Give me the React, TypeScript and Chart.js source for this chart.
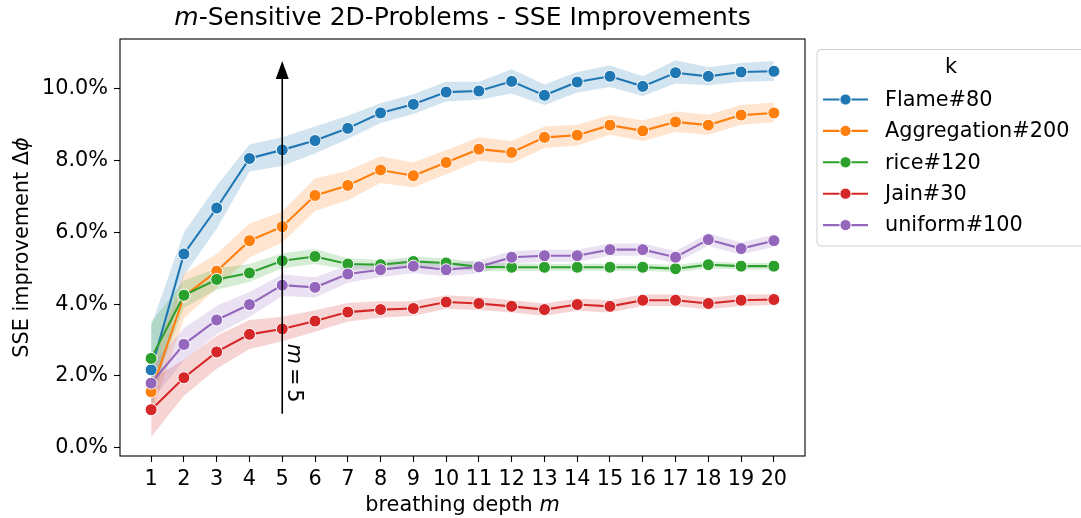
import React, { useEffect, useRef } from "react";
import { Chart, registerables } from "chart.js";

Chart.register(...registerables);

const FONT = "DejaVu Sans";

const depths = [1, 2, 3, 4, 5, 6, 7, 8, 9, 10, 11, 12, 13, 14, 15, 16, 17, 18, 19, 20];

const seriesLabels = ["Flame#80", "Aggregation#200", "rice#120", "Jain#30", "uniform#100"];
const seriesColors = ["#1f77b4", "#ff7f0e", "#2ca02c", "#d62728", "#9467bd"];
const bandColors = [
  "rgba(31,119,180,0.2)",
  "rgba(255,127,14,0.2)",
  "rgba(44,160,44,0.2)",
  "rgba(214,39,40,0.2)",
  "rgba(148,103,189,0.2)",
];

const flame = [2.17, 5.40, 6.68, 8.06, 8.30, 8.56, 8.90, 9.33, 9.57, 9.91, 9.94, 10.21, 9.82, 10.19, 10.35, 10.07, 10.45, 10.35, 10.47, 10.49];
const flameLow = [1.0, 4.8, 6.1, 7.7, 7.85, 8.2, 8.6, 9.05, 9.3, 9.65, 9.7, 9.87, 9.55, 9.9, 10.05, 9.8, 10.15, 10.1, 10.2, 10.22];
const flameHigh = [3.4, 6.0, 7.3, 8.45, 8.65, 8.95, 9.25, 9.6, 9.85, 10.2, 10.2, 10.55, 10.12, 10.47, 10.65, 10.35, 10.8, 10.6, 10.72, 10.78];

const aggregation = [1.56, 4.22, 4.92, 5.77, 6.16, 7.03, 7.31, 7.74, 7.58, 7.95, 8.32, 8.23, 8.65, 8.71, 8.99, 8.83, 9.08, 8.99, 9.27, 9.33];
const aggregationLow = [0.9, 3.6, 4.45, 5.3, 5.72, 6.6, 6.9, 7.38, 7.25, 7.62, 8.0, 7.92, 8.35, 8.42, 8.72, 8.55, 8.8, 8.72, 9.0, 9.07];
const aggregationHigh = [2.3, 4.85, 5.4, 6.25, 6.58, 7.5, 7.72, 8.12, 7.95, 8.3, 8.65, 8.55, 8.95, 9.0, 9.27, 9.12, 9.37, 9.28, 9.55, 9.62];

const rice = [2.49, 4.25, 4.69, 4.87, 5.21, 5.33, 5.12, 5.10, 5.19, 5.15, 5.04, 5.03, 5.03, 5.03, 5.03, 5.03, 4.99, 5.10, 5.06, 5.06];
const riceLow = [1.5, 3.9, 4.4, 4.62, 5.0, 5.12, 4.97, 4.97, 5.05, 5.02, 4.92, 4.92, 4.93, 4.93, 4.93, 4.93, 4.89, 5.0, 4.97, 4.97];
const riceHigh = [3.5, 4.65, 5.0, 5.12, 5.42, 5.54, 5.28, 5.23, 5.32, 5.28, 5.16, 5.14, 5.13, 5.13, 5.13, 5.13, 5.09, 5.2, 5.15, 5.15];

const jain = [1.06, 1.95, 2.67, 3.16, 3.31, 3.53, 3.78, 3.85, 3.88, 4.06, 4.02, 3.94, 3.85, 3.99, 3.94, 4.11, 4.11, 4.02, 4.11, 4.13];
const jainLow = [0.3, 1.45, 2.2, 2.75, 2.97, 3.23, 3.52, 3.62, 3.68, 3.87, 3.84, 3.77, 3.68, 3.82, 3.77, 3.95, 3.95, 3.86, 3.95, 3.98];
const jainHigh = [1.9, 2.45, 3.12, 3.56, 3.65, 3.83, 4.03, 4.08, 4.08, 4.25, 4.2, 4.11, 4.02, 4.16, 4.11, 4.27, 4.27, 4.18, 4.27, 4.28];

const uniform = [1.80, 2.88, 3.56, 3.99, 4.53, 4.47, 4.84, 4.96, 5.06, 4.96, 5.04, 5.31, 5.35, 5.35, 5.52, 5.52, 5.31, 5.80, 5.55, 5.77];
const uniformLow = [1.3, 2.43, 3.16, 3.64, 4.23, 4.19, 4.6, 4.76, 4.86, 4.78, 4.86, 5.14, 5.18, 5.18, 5.35, 5.35, 5.14, 5.63, 5.38, 5.6];
const uniformHigh = [2.3, 3.33, 3.96, 4.34, 4.83, 4.75, 5.08, 5.16, 5.26, 5.14, 5.22, 5.48, 5.52, 5.52, 5.69, 5.69, 5.48, 5.97, 5.72, 5.94];

const seriesValues = [flame, aggregation, rice, jain, uniform];
const seriesLow = [flameLow, aggregationLow, riceLow, jainLow, uniformLow];
const seriesHigh = [flameHigh, aggregationHigh, riceHigh, jainHigh, uniformHigh];

const yTickValues = [0, 2, 4, 6, 8, 10];
const xMin = 0.05;
const xMax = 20.95;
const yMin = -0.23;
const yMax = 11.39;

const titleItalic = "m";
const titleRest = "-Sensitive 2D-Problems - SSE Improvements";
const xTitleRest = "breathing depth ";
const xTitleItalic = "m";
const yTitleRest = "SSE improvement Δ";
const yTitleItalic = "ϕ";
const legendTitle = "k";
const arrowX = 5;
const arrowFrom = 0.95;
const arrowTo = 10.78;
const arrowTextStart = 2.9;
const arrowTextItalic = "m";
const arrowTextEq = "=";
const arrowTextVal = "5";

const pts = (arr: number[]) => arr.map((v, i) => ({ x: depths[i], y: v }));

const overlay = {
  id: "overlay",
  afterDraw(chart: any) {
    const { ctx, chartArea } = chart;
    const xs = chart.scales.x;
    const ys = chart.scales.y;
    ctx.save();

    // frame
    ctx.strokeStyle = "#000";
    ctx.lineWidth = 1.1;
    ctx.strokeRect(chartArea.left, chartArea.top, chartArea.right - chartArea.left, chartArea.bottom - chartArea.top);

    ctx.fillStyle = "#000";
    ctx.textBaseline = "alphabetic";
    ctx.textAlign = "left";

    // title
    const cx = (chartArea.left + chartArea.right) / 2;
    ctx.font = `italic 25px "${FONT}"`;
    const w1 = ctx.measureText(titleItalic).width;
    ctx.font = `25px "${FONT}"`;
    const w2 = ctx.measureText(titleRest).width;
    let sx = cx - (w1 + w2) / 2;
    ctx.font = `italic 25px "${FONT}"`;
    ctx.fillText(titleItalic, sx, 25);
    ctx.font = `25px "${FONT}"`;
    ctx.fillText(titleRest, sx + w1, 25);

    // x title
    ctx.font = `20.8px "${FONT}"`;
    const xw1 = ctx.measureText(xTitleRest).width;
    ctx.font = `italic 20.8px "${FONT}"`;
    const xw2 = ctx.measureText(xTitleItalic).width;
    sx = cx - (xw1 + xw2) / 2;
    ctx.font = `20.8px "${FONT}"`;
    ctx.fillText(xTitleRest, sx, 511);
    ctx.font = `italic 20.8px "${FONT}"`;
    ctx.fillText(xTitleItalic, sx + xw1, 511);

    // y title
    const cy = (chartArea.top + chartArea.bottom) / 2;
    ctx.save();
    ctx.translate(28, cy);
    ctx.rotate(-Math.PI / 2);
    ctx.font = `20.8px "${FONT}"`;
    const yw1 = ctx.measureText(yTitleRest).width;
    ctx.font = `italic 20.8px "${FONT}"`;
    const yw2 = ctx.measureText(yTitleItalic).width;
    const ys0 = -(yw1 + yw2) / 2;
    ctx.font = `20.8px "${FONT}"`;
    ctx.fillText(yTitleRest, ys0, 0);
    ctx.font = `italic 20.8px "${FONT}"`;
    ctx.fillText(yTitleItalic, ys0 + yw1, 0);
    ctx.restore();

    // arrow
    const ax = xs.getPixelForValue(arrowX);
    const ay0 = ys.getPixelForValue(arrowFrom);
    const ay1 = ys.getPixelForValue(arrowTo);
    ctx.strokeStyle = "#000";
    ctx.lineWidth = 1.6;
    ctx.beginPath();
    ctx.moveTo(ax, ay0);
    ctx.lineTo(ax, ay1 + 16);
    ctx.stroke();
    ctx.beginPath();
    ctx.moveTo(ax, ay1);
    ctx.lineTo(ax - 6.5, ay1 + 18);
    ctx.lineTo(ax + 6.5, ay1 + 18);
    ctx.closePath();
    ctx.fill();

    // arrow text (rotated clockwise)
    ctx.save();
    ctx.translate(ax + 6, ys.getPixelForValue(arrowTextStart));
    ctx.rotate(Math.PI / 2);
    ctx.font = `italic 20.8px "${FONT}"`;
    ctx.fillText(arrowTextItalic, 0, 0);
    let tx = ctx.measureText(arrowTextItalic).width + 4;
    ctx.font = `20.8px "${FONT}"`;
    ctx.fillText(arrowTextEq, tx, 0);
    tx += ctx.measureText(arrowTextEq).width + 4;
    ctx.fillText(arrowTextVal, tx, 0);
    ctx.restore();

    // legend
    const lx = 817, ly = 49.5, lw = 270, lh = 196.5;
    ctx.beginPath();
    ctx.roundRect(lx, ly, lw, lh, 4);
    ctx.fillStyle = "rgba(255,255,255,0.8)";
    ctx.fill();
    ctx.strokeStyle = "#d0d0d0";
    ctx.lineWidth = 1;
    ctx.stroke();
    ctx.fillStyle = "#000";
    ctx.font = `20.8px "${FONT}"`;
    ctx.textAlign = "center";
    ctx.textBaseline = "middle";
    ctx.fillText(legendTitle, 951, 68);
    ctx.textAlign = "left";
    seriesLabels.forEach((lab, i) => {
      const yy = 99.5 + i * 31.4;
      ctx.strokeStyle = seriesColors[i];
      ctx.lineWidth = 2.1;
      ctx.beginPath();
      ctx.moveTo(823, yy);
      ctx.lineTo(868, yy);
      ctx.stroke();
      ctx.beginPath();
      ctx.arc(845.5, yy, 5.6, 0, Math.PI * 2);
      ctx.fillStyle = seriesColors[i];
      ctx.fill();
      ctx.strokeStyle = "#fff";
      ctx.lineWidth = 1;
      ctx.stroke();
      ctx.fillStyle = "#000";
      ctx.fillText(lab, 885, yy + 1);
    });

    ctx.restore();
  },
};

export default function App() {
  const ref = useRef<HTMLCanvasElement | null>(null);

  useEffect(() => {
    document.body.style.margin = "0";
    const canvas = ref.current;
    if (!canvas) return;

    const datasets: any[] = [];
    seriesLabels.forEach((lab, i) => {
      datasets.push({
        label: lab + " low",
        data: pts(seriesLow[i]),
        borderWidth: 0,
        pointRadius: 0,
        fill: false,
        order: 100 - i * 2,
      });
      datasets.push({
        label: lab + " high",
        data: pts(seriesHigh[i]),
        borderWidth: 0,
        pointRadius: 0,
        backgroundColor: bandColors[i],
        fill: "-1",
        order: 99 - i * 2,
      });
    });
    seriesLabels.forEach((lab, i) => {
      datasets.push({
        label: lab,
        data: pts(seriesValues[i]),
        borderColor: seriesColors[i],
        backgroundColor: seriesColors[i],
        borderWidth: 2.1,
        pointRadius: 6,
        pointBackgroundColor: seriesColors[i],
        pointBorderColor: "#fff",
        pointBorderWidth: 1,
        fill: false,
        tension: 0,
        order: 20 - i,
      });
    });

    const chart = new Chart(canvas, {
      type: "line",
      data: { datasets },
      options: {
        responsive: false,
        animation: false,
        devicePixelRatio: 1,
        layout: { padding: { left: 0, top: 39, right: 276, bottom: 0 } },
        font: { family: FONT },
        plugins: {
          legend: { display: false },
          tooltip: { enabled: false },
          title: { display: false },
        },
        scales: {
          x: {
            type: "linear",
            min: xMin,
            max: xMax,
            afterBuildTicks: (s: any) => {
              s.ticks = depths.map((v) => ({ value: v }));
            },
            afterFit: (s: any) => {
              s.height = 62;
            },
            grid: {
              display: true,
              drawOnChartArea: false,
              drawTicks: true,
              tickLength: 6,
              tickColor: "#000",
              tickWidth: 1.1,
            },
            border: { display: false },
            ticks: {
              autoSkip: false,
              maxRotation: 0,
              padding: 5,
              color: "#000",
              font: { family: FONT, size: 20.8 },
              callback: (v: any) => String(v),
            },
          },
          y: {
            type: "linear",
            min: yMin,
            max: yMax,
            afterBuildTicks: (s: any) => {
              s.ticks = yTickValues.map((v) => ({ value: v }));
            },
            afterFit: (s: any) => {
              s.width = 120;
            },
            grid: {
              display: true,
              drawOnChartArea: false,
              drawTicks: true,
              tickLength: 6,
              tickColor: "#000",
              tickWidth: 1.1,
            },
            border: { display: false },
            ticks: {
              autoSkip: false,
              padding: 6,
              color: "#000",
              font: { family: FONT, size: 20.8 },
              callback: (v: any) => Number(v).toFixed(1) + "%",
            },
          },
        },
      },
      plugins: [overlay],
    });

    return () => chart.destroy();
  }, []);

  return (
    <div style={{ position: "relative", width: 1081, height: 518 }}>
      <canvas ref={ref} width={1081} height={518} style={{ display: "block", width: 1081, height: 518 }} />
    </div>
  );
}
